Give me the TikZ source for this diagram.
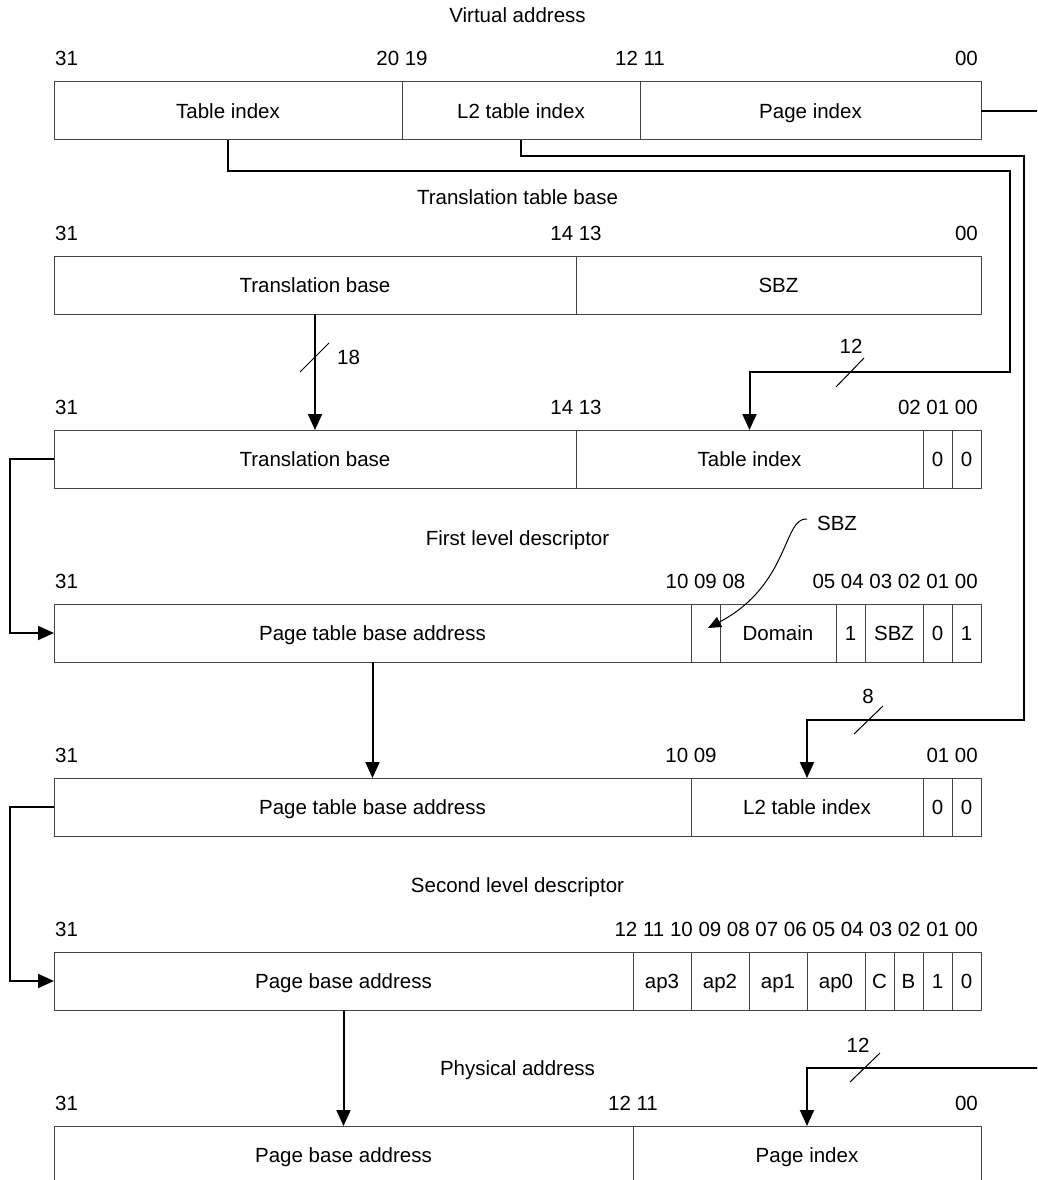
\documentclass[tikz,border=0pt]{standalone}
\usepackage{fontspec}
\setmainfont{Liberation Sans}
\usepackage{tikz}
\usetikzlibrary{arrows.meta, positioning}
\definecolor{boxedge}{HTML}{444444}

\begin{document}
\begin{tikzpicture}[
  x=1pt, y=-1pt,
  font=\fontsize{20.5}{24}\selectfont,
  field/.style={
    draw=boxedge, line width=1pt, minimum height=58pt,
    inner sep=0pt, outer sep=0pt, text height=14.7pt, text depth=0pt
  },
  link/.style={black, line width=2pt},
  arr/.style={link, -{Triangle[length=16pt, width=14pt]}},
  slash/.style={black, line width=1pt},
  bitlbl/.style={inner sep=0pt},
  title/.style={inner sep=0pt, anchor=base}
]
  \useasboundingbox (0,0) rectangle (1037,1180);
  \clip (0,0) rectangle (1037,1180);

  % Virtual address
  \node[title] (tVa) at (517.5,23) {Virtual address};
  \node[field, anchor=north west, minimum width=348pt] (vaTab) at (54,82) {Table index};
  \node[field, right=0pt of vaTab, minimum width=238pt] (vaL2) {L2 table index};
  \node[field, right=0pt of vaL2, minimum width=341pt] (vaPage) {Page index};
  \node[bitlbl, anchor=base west] (vaHi) at ([xshift=1pt,yshift=16pt]vaTab.north west) {31};
  \node[bitlbl, anchor=base] (vaMidA) at ([yshift=16pt]vaL2.north west) {20 19};
  \node[bitlbl, anchor=base] (vaMidB) at ([yshift=16pt]vaPage.north west) {12 11};
  \node[bitlbl, anchor=base east] (vaLo) at ([xshift=-3pt,yshift=16pt]vaPage.north east) {00};

  % Translation table base
  \node[title] (tTtb) at (517.5,204) {Translation table base};
  \node[field, anchor=north west, minimum width=522pt] (ttbBase) at (54,256) {Translation base};
  \node[field, right=0pt of ttbBase, minimum width=405pt] (ttbSbz) {SBZ};
  \node[bitlbl, anchor=base west] (ttbHi) at ([xshift=1pt,yshift=16pt]ttbBase.north west) {31};
  \node[bitlbl, anchor=base] (ttbMid) at ([yshift=16pt]ttbSbz.north west) {14 13};
  \node[bitlbl, anchor=base east] (ttbLo) at ([xshift=-3pt,yshift=16pt]ttbSbz.north east) {00};

  % first level descriptor address
  \node[field, anchor=north west, minimum width=522pt] (fdaBase) at (54,430) {Translation base};
  \node[field, right=0pt of fdaBase, minimum width=347pt] (fdaIdx) {Table index};
  \node[field, right=0pt of fdaIdx, minimum width=29pt] (fdaZa) {0};
  \node[field, right=0pt of fdaZa, minimum width=29pt] (fdaZb) {0};
  \node[bitlbl, anchor=base west] (fdaHi) at ([xshift=1pt,yshift=16pt]fdaBase.north west) {31};
  \node[bitlbl, anchor=base] (fdaMid) at ([yshift=16pt]fdaIdx.north west) {14 13};
  \node[bitlbl, anchor=base east] (fdaLo) at ([xshift=-3pt,yshift=16pt]fdaZb.north east) {02 01 00};

  % First level descriptor
  \node[title] (tFd) at (517.5,545) {First level descriptor};
  \node[field, anchor=north west, minimum width=637pt] (fdBase) at (54,604) {Page table base address};
  \node[field, right=0pt of fdBase, minimum width=29pt] (fdSbz) {};
  \node[field, right=0pt of fdSbz, minimum width=116pt] (fdDom) {Domain};
  \node[field, right=0pt of fdDom, minimum width=29pt] (fdOne) {1};
  \node[field, right=0pt of fdOne, minimum width=58pt] (fdSbzb) {SBZ};
  \node[field, right=0pt of fdSbzb, minimum width=29pt] (fdZero) {0};
  \node[field, right=0pt of fdZero, minimum width=29pt] (fdOneb) {1};
  \node[bitlbl, anchor=base west] (fdHi) at ([xshift=1pt,yshift=16pt]fdBase.north west) {31};
  \node[bitlbl, anchor=base] (fdMid) at ([yshift=16pt]fdSbz.north) {10 09 08};
  \node[bitlbl, anchor=base east] (fdLo) at ([xshift=-3pt,yshift=16pt]fdOneb.north east) {05 04 03 02 01 00};
  \node[title] (sbzLbl) at (837,530) {SBZ};

  % second level descriptor address
  \node[field, anchor=north west, minimum width=637pt] (sdaBase) at (54,778) {Page table base address};
  \node[field, right=0pt of sdaBase, minimum width=232pt] (sdaIdx) {L2 table index};
  \node[field, right=0pt of sdaIdx, minimum width=29pt] (sdaZa) {0};
  \node[field, right=0pt of sdaZa, minimum width=29pt] (sdaZb) {0};
  \node[bitlbl, anchor=base west] (sdaHi) at ([xshift=1pt,yshift=16pt]sdaBase.north west) {31};
  \node[bitlbl, anchor=base] (sdaMid) at ([yshift=16pt]sdaIdx.north west) {10 09};
  \node[bitlbl, anchor=base east] (sdaLo) at ([xshift=-3pt,yshift=16pt]sdaZb.north east) {01 00};

  % Second level descriptor
  \node[title] (tSd) at (517.5,892) {Second level descriptor};
  \node[field, anchor=north west, minimum width=579pt] (sdBase) at (54,952) {Page base address};
  \node[field, right=0pt of sdBase, minimum width=58pt] (sdApc) {ap3};
  \node[field, right=0pt of sdApc, minimum width=58pt] (sdApb) {ap2};
  \node[field, right=0pt of sdApb, minimum width=58pt] (sdApa) {ap1};
  \node[field, right=0pt of sdApa, minimum width=58pt] (sdApz) {ap0};
  \node[field, right=0pt of sdApz, minimum width=29pt] (sdC) {C};
  \node[field, right=0pt of sdC, minimum width=29pt] (sdB) {B};
  \node[field, right=0pt of sdB, minimum width=29pt] (sdOne) {1};
  \node[field, right=0pt of sdOne, minimum width=29pt] (sdZero) {0};
  \node[bitlbl, anchor=base west] (sdHi) at ([xshift=1pt,yshift=16pt]sdBase.north west) {31};
  \node[bitlbl, anchor=base east] (sdLo) at ([xshift=-3pt,yshift=16pt]sdZero.north east)
    {12 11 10 09 08 07 06 05 04 03 02 01 00};

  % Physical address
  \node[title] (tPa) at (517.5,1075) {Physical address};
  \node[field, anchor=north west, minimum width=579pt] (paBase) at (54,1126) {Page base address};
  \node[field, right=0pt of paBase, minimum width=348pt] (paPage) {Page index};
  \node[bitlbl, anchor=base west] (paHi) at ([xshift=1pt,yshift=16pt]paBase.north west) {31};
  \node[bitlbl, anchor=base] (paMid) at ([yshift=16pt]paPage.north west) {12 11};
  \node[bitlbl, anchor=base east] (paLo) at ([xshift=-3pt,yshift=16pt]paPage.north east) {00};

  % connectors
  \coordinate (edgeTop) at (1040,111);
  \coordinate (edgeBot) at (1040,1068);
  \coordinate (tabTurn) at (1010,372);
  \coordinate (l2Turn) at (1024,720);
  \draw[link] (vaPage.east) -- (edgeTop);
  \draw[arr] (vaTab.south) -- ++(0,31) -| (tabTurn) -| (fdaIdx.north);
  \draw[arr] (vaL2.south) -- ++(0,16) -| (l2Turn) -| (sdaIdx.north);
  \draw[arr] (ttbBase.south) -- (fdaBase.north);
  \draw[arr] (fdaBase.west) -- ++(-44,0) |- (fdBase.west);
  \draw[arr] (fdBase.south) -- (sdaBase.north);
  \draw[arr] (sdaBase.west) -- ++(-44,0) |- (sdBase.west);
  \draw[arr] (sdBase.south) -- (paBase.north);
  \draw[arr] (edgeBot) -| (paPage.north);

  % bus widths
  \draw[slash] (300,372) -- (329,343);
  \node[bitlbl, anchor=base west] (wTtb) at (337,364) {18};
  \draw[slash] (836,387) -- (864,358);
  \node[bitlbl, anchor=base] (wTab) at (851,353) {12};
  \draw[slash] (854,734) -- (883,706);
  \node[bitlbl, anchor=base] (wL2) at (868,703) {8};
  \draw[slash] (850,1082) -- (880,1053);
  \node[bitlbl, anchor=base] (wPage) at (858,1052) {12};

  % SBZ pointer into bit 9
  \coordinate (sbzFrom) at (807,519);
  \coordinate (sbzTip) at (708,628);
  \draw[slash, -{Triangle[length=13pt, width=11pt]}]
    (sbzFrom) .. controls (783,517) and (790,585) .. (sbzTip);
\end{tikzpicture}
\end{document}
